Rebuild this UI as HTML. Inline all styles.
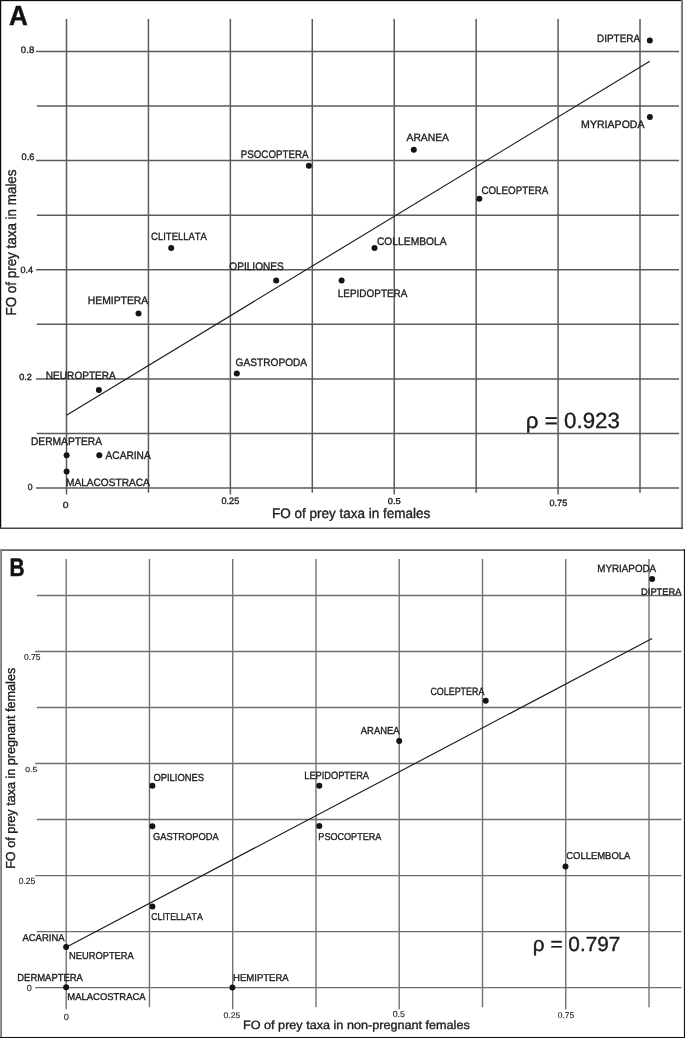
<!DOCTYPE html>
<html><head><meta charset="utf-8"><title>FO of prey taxa</title>
<style>
html,body{margin:0;padding:0;background:#fff;}
body{width:685px;height:1038px;overflow:hidden;}
svg{display:block;font-family:"Liberation Sans",sans-serif;font-kerning:none;text-rendering:geometricPrecision;}
</style></head><body>
<svg width="685" height="1038" viewBox="0 0 685 1038">
<rect width="685" height="1038" fill="#fff"/>
<line x1="36.00" y1="51.50" x2="679.00" y2="51.50" stroke="#5a5a5a" stroke-width="1.5"/>
<line x1="36.80" y1="106.06" x2="679.00" y2="106.06" stroke="#5a5a5a" stroke-width="1.5"/>
<line x1="36.00" y1="160.62" x2="679.00" y2="160.62" stroke="#5a5a5a" stroke-width="1.5"/>
<line x1="36.80" y1="215.19" x2="679.00" y2="215.19" stroke="#5a5a5a" stroke-width="1.5"/>
<line x1="36.00" y1="269.75" x2="679.00" y2="269.75" stroke="#5a5a5a" stroke-width="1.5"/>
<line x1="36.80" y1="324.31" x2="679.00" y2="324.31" stroke="#5a5a5a" stroke-width="1.5"/>
<line x1="36.00" y1="378.88" x2="679.00" y2="378.88" stroke="#5a5a5a" stroke-width="1.5"/>
<line x1="36.80" y1="433.44" x2="679.00" y2="433.44" stroke="#5a5a5a" stroke-width="1.5"/>
<line x1="36.00" y1="488.00" x2="679.00" y2="488.00" stroke="#5a5a5a" stroke-width="1.5"/>
<line x1="66.50" y1="18.90" x2="66.50" y2="494.50" stroke="#5a5a5a" stroke-width="1.5"/>
<line x1="148.43" y1="18.90" x2="148.43" y2="492.80" stroke="#5a5a5a" stroke-width="1.5"/>
<line x1="230.36" y1="18.90" x2="230.36" y2="494.50" stroke="#5a5a5a" stroke-width="1.5"/>
<line x1="312.29" y1="18.90" x2="312.29" y2="492.80" stroke="#5a5a5a" stroke-width="1.5"/>
<line x1="394.22" y1="18.90" x2="394.22" y2="494.50" stroke="#5a5a5a" stroke-width="1.5"/>
<line x1="476.15" y1="18.90" x2="476.15" y2="492.80" stroke="#5a5a5a" stroke-width="1.5"/>
<line x1="558.08" y1="18.90" x2="558.08" y2="494.50" stroke="#5a5a5a" stroke-width="1.5"/>
<line x1="640.01" y1="18.90" x2="640.01" y2="492.80" stroke="#5a5a5a" stroke-width="1.5"/>
<text x="20.89" y="52.90" font-size="9.49" textLength="13.35" lengthAdjust="spacingAndGlyphs" fill="#1c1c1c" stroke="#1c1c1c" stroke-width="0.35">0.8</text>
<text x="21.61" y="160.40" font-size="9.35" textLength="12.72" lengthAdjust="spacingAndGlyphs" fill="#1c1c1c" stroke="#1c1c1c" stroke-width="0.35">0.6</text>
<text x="20.52" y="272.90" font-size="9.06" textLength="12.58" lengthAdjust="spacingAndGlyphs" fill="#1c1c1c" stroke="#1c1c1c" stroke-width="0.35">0.4</text>
<text x="19.21" y="380.30" font-size="8.91" textLength="12.67" lengthAdjust="spacingAndGlyphs" fill="#1c1c1c" stroke="#1c1c1c" stroke-width="0.35">0.2</text>
<text x="27.63" y="489.90" font-size="9.06" textLength="4.84" lengthAdjust="spacingAndGlyphs" fill="#1c1c1c" stroke="#1c1c1c" stroke-width="0.35">0</text>
<text x="62.66" y="507.90" font-size="9.06" textLength="5.77" lengthAdjust="spacingAndGlyphs" fill="#1c1c1c" stroke="#1c1c1c" stroke-width="0.35">0</text>
<text x="221.51" y="504.20" font-size="9.35" textLength="17.70" lengthAdjust="spacingAndGlyphs" fill="#1c1c1c" stroke="#1c1c1c" stroke-width="0.35">0.25</text>
<text x="387.70" y="504.10" font-size="8.62" textLength="13.02" lengthAdjust="spacingAndGlyphs" fill="#1c1c1c" stroke="#1c1c1c" stroke-width="0.35">0.5</text>
<text x="549.51" y="505.60" font-size="9.06" textLength="17.70" lengthAdjust="spacingAndGlyphs" fill="#1c1c1c" stroke="#1c1c1c" stroke-width="0.35">0.75</text>
<text x="271.96" y="517.60" font-size="13.85" textLength="158.36" lengthAdjust="spacingAndGlyphs" fill="#1c1c1c" stroke="#1c1c1c" stroke-width="0.35">FO of prey taxa in females</text>
<text transform="rotate(-90)" x="-315.53" y="16.00" font-size="14.43" textLength="146.04" lengthAdjust="spacingAndGlyphs" fill="#1c1c1c" stroke="#1c1c1c" stroke-width="0.35">FO of prey taxa in males</text>
<line x1="66.50" y1="415.20" x2="649.80" y2="61.30" stroke="#1e1e1e" stroke-width="1.15"/>
<text x="596.95" y="42.00" font-size="10.80" textLength="43.20" lengthAdjust="spacingAndGlyphs" fill="#1c1c1c" stroke="#1c1c1c" stroke-width="0.35">DIPTERA</text>
<text x="581.10" y="127.80" font-size="10.80" textLength="63.45" lengthAdjust="spacingAndGlyphs" fill="#1c1c1c" stroke="#1c1c1c" stroke-width="0.35">MYRIAPODA</text>
<text x="406.55" y="140.60" font-size="10.65" textLength="42.40" lengthAdjust="spacingAndGlyphs" fill="#1c1c1c" stroke="#1c1c1c" stroke-width="0.35">ARANEA</text>
<text x="240.77" y="158.20" font-size="10.94" textLength="67.68" lengthAdjust="spacingAndGlyphs" fill="#1c1c1c" stroke="#1c1c1c" stroke-width="0.35">PSOCOPTERA</text>
<text x="481.47" y="194.00" font-size="10.80" textLength="66.78" lengthAdjust="spacingAndGlyphs" fill="#1c1c1c" stroke="#1c1c1c" stroke-width="0.35">COLEOPTERA</text>
<text x="151.09" y="239.80" font-size="10.65" textLength="55.86" lengthAdjust="spacingAndGlyphs" fill="#1c1c1c" stroke="#1c1c1c" stroke-width="0.35">CLITELLATA</text>
<text x="376.95" y="244.50" font-size="10.94" textLength="69.70" lengthAdjust="spacingAndGlyphs" fill="#1c1c1c" stroke="#1c1c1c" stroke-width="0.35">COLLEMBOLA</text>
<text x="229.29" y="269.50" font-size="10.94" textLength="54.50" lengthAdjust="spacingAndGlyphs" fill="#1c1c1c" stroke="#1c1c1c" stroke-width="0.35">OPILIONES</text>
<text x="337.75" y="297.40" font-size="10.80" textLength="69.70" lengthAdjust="spacingAndGlyphs" fill="#1c1c1c" stroke="#1c1c1c" stroke-width="0.35">LEPIDOPTERA</text>
<text x="87.72" y="303.80" font-size="10.80" textLength="60.53" lengthAdjust="spacingAndGlyphs" fill="#1c1c1c" stroke="#1c1c1c" stroke-width="0.35">HEMIPTERA</text>
<text x="235.56" y="365.50" font-size="10.80" textLength="71.59" lengthAdjust="spacingAndGlyphs" fill="#1c1c1c" stroke="#1c1c1c" stroke-width="0.35">GASTROPODA</text>
<text x="45.84" y="378.80" font-size="10.51" textLength="70.01" lengthAdjust="spacingAndGlyphs" fill="#1c1c1c" stroke="#1c1c1c" stroke-width="0.35">NEUROPTERA</text>
<text x="30.93" y="445.00" font-size="10.94" textLength="71.12" lengthAdjust="spacingAndGlyphs" fill="#1c1c1c" stroke="#1c1c1c" stroke-width="0.35">DERMAPTERA</text>
<text x="105.55" y="459.30" font-size="10.94" textLength="45.10" lengthAdjust="spacingAndGlyphs" fill="#1c1c1c" stroke="#1c1c1c" stroke-width="0.35">ACARINA</text>
<text x="65.94" y="486.00" font-size="10.65" textLength="83.91" lengthAdjust="spacingAndGlyphs" fill="#1c1c1c" stroke="#1c1c1c" stroke-width="0.35">MALACOSTRACA</text>
<circle cx="649.80" cy="40.50" r="3.0" fill="#141414"/>
<circle cx="649.90" cy="116.90" r="3.0" fill="#141414"/>
<circle cx="413.80" cy="149.70" r="3.0" fill="#141414"/>
<circle cx="308.90" cy="165.80" r="3.0" fill="#141414"/>
<circle cx="479.30" cy="198.80" r="3.0" fill="#141414"/>
<circle cx="171.20" cy="247.90" r="3.0" fill="#141414"/>
<circle cx="374.50" cy="248.00" r="3.0" fill="#141414"/>
<circle cx="276.20" cy="280.60" r="3.0" fill="#141414"/>
<circle cx="341.60" cy="280.60" r="3.0" fill="#141414"/>
<circle cx="138.50" cy="313.40" r="3.0" fill="#141414"/>
<circle cx="236.80" cy="373.50" r="3.0" fill="#141414"/>
<circle cx="98.90" cy="389.90" r="3.0" fill="#141414"/>
<circle cx="66.60" cy="455.20" r="3.0" fill="#141414"/>
<circle cx="99.30" cy="455.20" r="3.0" fill="#141414"/>
<circle cx="66.60" cy="471.60" r="3.0" fill="#141414"/>
<text x="525.83" y="428.20" font-size="21.85" textLength="94.08" lengthAdjust="spacingAndGlyphs" fill="#1c1c1c" stroke="#1c1c1c" stroke-width="0.35">ρ = 0.923</text>
<text x="9.12" y="25.00" font-size="27.66" font-weight="bold" textLength="18.79" lengthAdjust="spacingAndGlyphs" fill="#111" stroke="#111" stroke-width="0.45">A</text>
<rect x="0.00" y="0.00" width="1.22" height="529.00" fill="#080808"/>
<rect x="0.00" y="0.00" width="683.00" height="1.15" fill="#0a0a0a"/>
<rect x="680.90" y="0.00" width="1.10" height="529.00" fill="#8a8a8a"/>
<rect x="682.00" y="0.00" width="0.95" height="529.00" fill="#6a6a6a"/>
<rect x="0.00" y="527.50" width="683.00" height="1.50" fill="#474747"/>
<line x1="36.80" y1="595.45" x2="681.50" y2="595.45" stroke="#6e6e6e" stroke-width="1.35"/>
<line x1="35.20" y1="651.47" x2="681.50" y2="651.47" stroke="#6e6e6e" stroke-width="1.35"/>
<line x1="36.80" y1="707.49" x2="681.50" y2="707.49" stroke="#6e6e6e" stroke-width="1.35"/>
<line x1="35.20" y1="763.51" x2="681.50" y2="763.51" stroke="#6e6e6e" stroke-width="1.35"/>
<line x1="36.80" y1="819.53" x2="681.50" y2="819.53" stroke="#6e6e6e" stroke-width="1.35"/>
<line x1="35.20" y1="875.55" x2="681.50" y2="875.55" stroke="#6e6e6e" stroke-width="1.35"/>
<line x1="36.80" y1="931.57" x2="681.50" y2="931.57" stroke="#6e6e6e" stroke-width="1.35"/>
<line x1="35.20" y1="987.59" x2="681.50" y2="987.59" stroke="#6e6e6e" stroke-width="1.35"/>
<line x1="66.20" y1="559.00" x2="66.20" y2="1009.20" stroke="#6e6e6e" stroke-width="1.35"/>
<line x1="149.46" y1="559.00" x2="149.46" y2="1007.20" stroke="#6e6e6e" stroke-width="1.35"/>
<line x1="232.72" y1="559.00" x2="232.72" y2="1009.20" stroke="#6e6e6e" stroke-width="1.35"/>
<line x1="315.98" y1="559.00" x2="315.98" y2="1007.20" stroke="#6e6e6e" stroke-width="1.35"/>
<line x1="399.24" y1="559.00" x2="399.24" y2="1009.20" stroke="#6e6e6e" stroke-width="1.35"/>
<line x1="482.50" y1="559.00" x2="482.50" y2="1007.20" stroke="#6e6e6e" stroke-width="1.35"/>
<line x1="565.76" y1="559.00" x2="565.76" y2="1009.20" stroke="#6e6e6e" stroke-width="1.35"/>
<line x1="649.02" y1="559.00" x2="649.02" y2="1007.20" stroke="#6e6e6e" stroke-width="1.35"/>
<text x="24.04" y="660.10" font-size="8.62" textLength="16.55" lengthAdjust="spacingAndGlyphs" fill="#1c1c1c" stroke="#1c1c1c" stroke-width="0.12">0.75</text>
<text x="25.23" y="772.00" font-size="7.46" textLength="12.06" lengthAdjust="spacingAndGlyphs" fill="#1c1c1c" stroke="#1c1c1c" stroke-width="0.12">0.5</text>
<text x="18.74" y="883.70" font-size="9.06" textLength="16.55" lengthAdjust="spacingAndGlyphs" fill="#1c1c1c" stroke="#1c1c1c" stroke-width="0.12">0.25</text>
<text x="26.71" y="990.90" font-size="8.91" textLength="5.07" lengthAdjust="spacingAndGlyphs" fill="#1c1c1c" stroke="#1c1c1c" stroke-width="0.12">0</text>
<text x="63.71" y="1019.60" font-size="9.06" textLength="5.19" lengthAdjust="spacingAndGlyphs" fill="#1c1c1c" stroke="#1c1c1c" stroke-width="0.12">0</text>
<text x="223.64" y="1018.00" font-size="8.04" textLength="16.55" lengthAdjust="spacingAndGlyphs" fill="#1c1c1c" stroke="#1c1c1c" stroke-width="0.12">0.25</text>
<text x="392.73" y="1017.00" font-size="8.47" textLength="12.17" lengthAdjust="spacingAndGlyphs" fill="#1c1c1c" stroke="#1c1c1c" stroke-width="0.12">0.5</text>
<text x="557.84" y="1018.20" font-size="8.33" textLength="16.34" lengthAdjust="spacingAndGlyphs" fill="#1c1c1c" stroke="#1c1c1c" stroke-width="0.12">0.75</text>
<text x="243.03" y="1028.70" font-size="11.96" textLength="226.75" lengthAdjust="spacingAndGlyphs" fill="#1c1c1c" stroke="#1c1c1c" stroke-width="0.35">FO of prey taxa in non-pregnant females</text>
<text transform="rotate(-90)" x="-868.86" y="15.00" font-size="12.98" textLength="201.05" lengthAdjust="spacingAndGlyphs" fill="#1c1c1c" stroke="#1c1c1c" stroke-width="0.35">FO of prey taxa in pregnant females</text>
<line x1="66.10" y1="947.30" x2="652.10" y2="638.60" stroke="#1e1e1e" stroke-width="1.15"/>
<text x="597.27" y="571.80" font-size="10.65" textLength="58.88" lengthAdjust="spacingAndGlyphs" fill="#1c1c1c" stroke="#1c1c1c" stroke-width="0.35">MYRIAPODA</text>
<text x="641.11" y="595.30" font-size="9.49" textLength="40.24" lengthAdjust="spacingAndGlyphs" fill="#1c1c1c" stroke="#1c1c1c" stroke-width="0.35">DIPTERA</text>
<text x="430.42" y="695.40" font-size="10.51" textLength="53.93" lengthAdjust="spacingAndGlyphs" fill="#1c1c1c" stroke="#1c1c1c" stroke-width="0.35">COLEPTERA</text>
<text x="360.85" y="733.60" font-size="10.22" textLength="38.60" lengthAdjust="spacingAndGlyphs" fill="#1c1c1c" stroke="#1c1c1c" stroke-width="0.35">ARANEA</text>
<text x="153.42" y="780.70" font-size="10.22" textLength="50.74" lengthAdjust="spacingAndGlyphs" fill="#1c1c1c" stroke="#1c1c1c" stroke-width="0.35">OPILIONES</text>
<text x="304.31" y="778.90" font-size="10.65" textLength="64.74" lengthAdjust="spacingAndGlyphs" fill="#1c1c1c" stroke="#1c1c1c" stroke-width="0.35">LEPIDOPTERA</text>
<text x="153.00" y="840.20" font-size="10.07" textLength="65.65" lengthAdjust="spacingAndGlyphs" fill="#1c1c1c" stroke="#1c1c1c" stroke-width="0.35">GASTROPODA</text>
<text x="318.33" y="840.20" font-size="9.93" textLength="63.02" lengthAdjust="spacingAndGlyphs" fill="#1c1c1c" stroke="#1c1c1c" stroke-width="0.35">PSOCOPTERA</text>
<text x="566.19" y="859.00" font-size="9.93" textLength="64.16" lengthAdjust="spacingAndGlyphs" fill="#1c1c1c" stroke="#1c1c1c" stroke-width="0.35">COLLEMBOLA</text>
<text x="151.23" y="920.30" font-size="9.93" textLength="51.52" lengthAdjust="spacingAndGlyphs" fill="#1c1c1c" stroke="#1c1c1c" stroke-width="0.35">CLITELLATA</text>
<text x="22.45" y="941.20" font-size="9.93" textLength="42.10" lengthAdjust="spacingAndGlyphs" fill="#1c1c1c" stroke="#1c1c1c" stroke-width="0.35">ACARINA</text>
<text x="69.01" y="958.70" font-size="10.07" textLength="64.74" lengthAdjust="spacingAndGlyphs" fill="#1c1c1c" stroke="#1c1c1c" stroke-width="0.35">NEUROPTERA</text>
<text x="17.30" y="981.00" font-size="10.22" textLength="65.55" lengthAdjust="spacingAndGlyphs" fill="#1c1c1c" stroke="#1c1c1c" stroke-width="0.35">DERMAPTERA</text>
<text x="233.09" y="981.00" font-size="9.93" textLength="55.66" lengthAdjust="spacingAndGlyphs" fill="#1c1c1c" stroke="#1c1c1c" stroke-width="0.35">HEMIPTERA</text>
<text x="67.29" y="1000.20" font-size="9.78" textLength="78.35" lengthAdjust="spacingAndGlyphs" fill="#1c1c1c" stroke="#1c1c1c" stroke-width="0.35">MALACOSTRACA</text>
<circle cx="652.10" cy="579.10" r="3.0" fill="#141414"/>
<circle cx="485.70" cy="700.70" r="3.0" fill="#141414"/>
<circle cx="399.20" cy="740.90" r="3.0" fill="#141414"/>
<circle cx="152.40" cy="785.80" r="3.0" fill="#141414"/>
<circle cx="319.30" cy="785.80" r="3.0" fill="#141414"/>
<circle cx="152.40" cy="826.20" r="3.0" fill="#141414"/>
<circle cx="319.30" cy="826.00" r="3.0" fill="#141414"/>
<circle cx="565.50" cy="866.50" r="3.0" fill="#141414"/>
<circle cx="152.40" cy="906.60" r="3.0" fill="#141414"/>
<circle cx="66.10" cy="947.00" r="3.0" fill="#141414"/>
<circle cx="66.10" cy="987.20" r="3.0" fill="#141414"/>
<circle cx="232.40" cy="987.50" r="3.0" fill="#141414"/>
<text x="532.83" y="950.60" font-size="20.39" textLength="87.55" lengthAdjust="spacingAndGlyphs" fill="#1c1c1c" stroke="#1c1c1c" stroke-width="0.35">ρ = 0.797</text>
<text x="9.57" y="576.00" font-size="25.33" font-weight="bold" textLength="15.11" lengthAdjust="spacingAndGlyphs" fill="#111" stroke="#111" stroke-width="0.45">B</text>
<rect x="0.00" y="549.00" width="685.00" height="1.00" fill="#8c8c8c"/>
<rect x="0.00" y="550.00" width="685.00" height="1.00" fill="#646464"/>
<rect x="0.00" y="549.00" width="1.00" height="489.00" fill="#999"/>
<rect x="1.00" y="549.00" width="1.00" height="489.00" fill="#777"/>
<rect x="683.90" y="549.00" width="1.10" height="489.00" fill="#121212"/>
<rect x="0.00" y="1036.95" width="685.00" height="1.05" fill="#111"/>
</svg>
</body></html>
